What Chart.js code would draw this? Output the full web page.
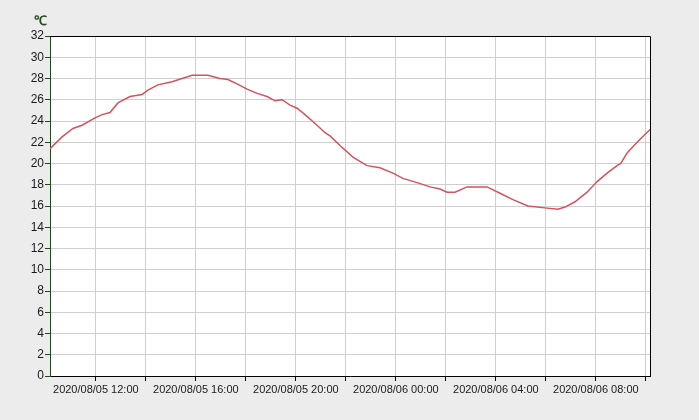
<!DOCTYPE html>
<html>
<head>
<meta charset="utf-8">
<script src="https://cdn.jsdelivr.net/npm/chart.js@4"></script>
<style>
  html, body { margin: 0; padding: 0; background: #ececec; }
  #wrap { width: 699px; height: 420px; position: relative; }
</style>
</head>
<body>
<div id="wrap"><canvas id="c" width="699" height="420"></canvas></div>
<script>
// ---- data ----
const times = [
  "2020/08/05 10:10","2020/08/05 10:39","2020/08/05 11:05","2020/08/05 11:27","2020/08/05 11:58",
  "2020/08/05 12:15","2020/08/05 12:34","2020/08/05 12:53","2020/08/05 13:22","2020/08/05 13:51",
  "2020/08/05 14:05","2020/08/05 14:29","2020/08/05 15:03","2020/08/05 15:27","2020/08/05 15:51",
  "2020/08/05 16:29","2020/08/05 16:58","2020/08/05 17:17","2020/08/05 17:39","2020/08/05 18:03",
  "2020/08/05 18:27","2020/08/05 18:51","2020/08/05 19:10","2020/08/05 19:27","2020/08/05 19:46",
  "2020/08/05 20:03","2020/08/05 20:22","2020/08/05 20:51","2020/08/05 21:10","2020/08/05 21:22",
  "2020/08/05 21:46","2020/08/05 22:17","2020/08/05 22:51","2020/08/05 23:22","2020/08/05 23:53",
  "2020/08/06 00:17","2020/08/06 00:51","2020/08/06 01:22","2020/08/06 01:46","2020/08/06 02:03",
  "2020/08/06 02:22","2020/08/06 02:51","2020/08/06 03:39","2020/08/06 04:10","2020/08/06 04:41",
  "2020/08/06 05:17","2020/08/06 06:03","2020/08/06 06:29","2020/08/06 06:46","2020/08/06 07:10",
  "2020/08/06 07:39","2020/08/06 08:03","2020/08/06 08:27","2020/08/06 08:51","2020/08/06 09:00",
  "2020/08/06 09:15","2020/08/06 09:39","2020/08/06 10:10"
];
const temps = [
  21.4, 22.5, 23.3, 23.6, 24.3,
  24.6, 24.8, 25.7, 26.3, 26.5,
  26.9, 27.4, 27.7, 28.0, 28.3,
  28.3, 28.0, 27.9, 27.5, 27.0,
  26.6, 26.3, 25.9, 26.0, 25.5,
  25.2, 24.6, 23.6, 22.9, 22.6,
  21.7, 20.6, 19.8, 19.6, 19.1,
  18.6, 18.2, 17.8, 17.6, 17.3,
  17.3, 17.8, 17.8, 17.2, 16.6,
  16.0, 15.8, 15.7, 15.9, 16.4,
  17.3, 18.3, 19.1, 19.8, 20.0,
  21.0, 22.0, 23.2
];
const xTickLabels = ["2020/08/05 12:00","2020/08/05 16:00","2020/08/05 20:00","2020/08/06 00:00","2020/08/06 04:00","2020/08/06 08:00"];
const yTicks = [0,2,4,6,8,10,12,14,16,18,20,22,24,26,28,30,32];
const unitLabel = "℃";
const xStart = "2020/08/05 10:10";
const xEnd = "2020/08/06 10:10";

// hours since 2020/08/05 00:00
function toHours(s) {
  const [d, t] = s.split(" ");
  const day = parseInt(d.split("/")[2], 10);
  const [hh, mm] = t.split(":").map(Number);
  return (day - 5) * 24 + hh + mm / 60;
}
const pts = times.map((t, i) => ({ x: toHours(t), y: temps[i] }));
const labelHours = xTickLabels.map(toHours);
const gridHours = [];
for (let h = Math.ceil(toHours(xStart) / 2) * 2; h <= toHours(xEnd); h += 2) gridHours.push(h);

const bgPlugin = {
  id: 'bg',
  beforeDraw(chart) {
    const { ctx, chartArea: a } = chart;
    ctx.save();
    ctx.fillStyle = '#ffffff';
    ctx.fillRect(a.left, a.top, a.right - a.left, a.bottom - a.top);
    ctx.restore();
  },
  afterDraw(chart) {
    const { ctx, chartArea: a } = chart;
    ctx.save();
    ctx.strokeStyle = '#000000';
    ctx.lineWidth = 1;
    ctx.beginPath();
    ctx.moveTo(a.left, Math.round(a.top) + 0.5);
    ctx.lineTo(Math.round(a.right) + 0.5, Math.round(a.top) + 0.5);
    ctx.lineTo(Math.round(a.right) + 0.5, a.bottom);
    ctx.stroke();
    ctx.fillStyle = '#1f4a1f';
    ctx.font = 'bold 13px "Liberation Sans", Arial, sans-serif';
    ctx.textAlign = 'center';
    ctx.textBaseline = 'middle';
    ctx.fillText(unitLabel, 40, 21);
    ctx.restore();
  }
};

new Chart(document.getElementById('c'), {
  type: 'line',
  data: {
    datasets: [{
      data: pts,
      borderColor: 'rgb(214,82,92)',
      borderWidth: 1.5,
      pointRadius: 0,
      tension: 0,
      fill: false
    }]
  },
  options: {
    responsive: false,
    animation: false,
    events: [],
    layout: { padding: { top: 36, right: 49, left: 0, bottom: 0 } },
    plugins: { legend: { display: false }, tooltip: { enabled: false } },
    scales: {
      x: {
        type: 'linear',
        min: toHours(xStart),
        max: toHours(xEnd),
        afterBuildTicks(scale) { scale.ticks = gridHours.map(v => ({ value: v })); },
        afterFit(scale) { scale.height = 44; },
        ticks: {
          autoSkip: false,
          maxRotation: 0,
          padding: 2,
          color: '#1a1a1a',
          font: { family: '"Liberation Sans", Arial, sans-serif', size: 11 },
          callback(v) {
            const i = labelHours.findIndex(h => Math.abs(h - v) < 1e-6);
            return i >= 0 ? xTickLabels[i] : '';
          }
        },
        grid: { color: '#cfcfcf', lineWidth: 1, tickLength: 5, tickColor: '#000000', drawTicks: true },
        border: { color: '#000000', width: 1 }
      },
      y: {
        min: 0,
        max: 32,
        afterBuildTicks(scale) { scale.ticks = yTicks.map(v => ({ value: v })); },
        afterFit(scale) { scale.width = 50; },
        ticks: {
          padding: 1,
          color: '#1a1a1a',
          font: { family: '"Liberation Sans", Arial, sans-serif', size: 12 }
        },
        grid: { color: '#cfcfcf', lineWidth: 1, tickLength: 5, tickColor: '#1f4a1f', drawTicks: true },
        border: { color: '#1f4a1f', width: 1 }
      }
    }
  },
  plugins: [bgPlugin]
});
</script>
</body>
</html>
